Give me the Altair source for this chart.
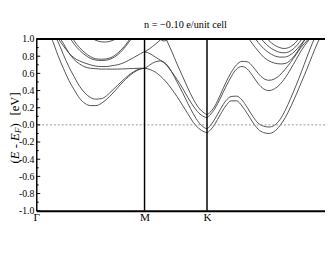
import altair as alt
import pandas as pd

# ---------------- data ----------------
title_text = "n = \u22120.10 e/unit cell"
hs_labels = ["\u0393", "M", "K"]
hs_pos = [0.0, 1.0, 1.577]
k_max = 2.667

y_major = [-1.0, -0.8, -0.6, -0.4, -0.2, 0.0, 0.2, 0.4, 0.6, 0.8, 1.0]
y_minor = [-0.9, -0.7, -0.5, -0.3, -0.1, 0.1, 0.3, 0.5, 0.7, 0.9]

# band A : deep Gamma-M valley -> lowest M-K band -> lower K-Gamma band
bandA_k = [0.13, 0.15, 0.20, 0.25, 0.30, 0.35, 0.40, 0.45, 0.50, 0.55, 0.60, 0.65, 0.70, 0.75,
           0.80, 0.85, 0.90, 0.95, 1.00, 1.05, 1.10, 1.15, 1.20, 1.25, 1.30, 1.35, 1.40, 1.45,
           1.50, 1.55, 1.577, 1.60, 1.65, 1.70, 1.75, 1.80, 1.85, 1.90, 1.95, 2.00, 2.05, 2.10,
           2.15, 2.20, 2.25, 2.30, 2.35, 2.40, 2.45, 2.50, 2.55, 2.60, 2.63]
bandA_E = [1.03, 0.98, 0.81, 0.66, 0.52, 0.41, 0.31, 0.25, 0.225, 0.225, 0.25, 0.30, 0.36, 0.43,
           0.50, 0.56, 0.61, 0.645, 0.66, 0.645, 0.615, 0.565, 0.50, 0.42, 0.33, 0.23, 0.13, 0.03,
           -0.04, -0.08, -0.09, -0.07, 0.01, 0.12, 0.22, 0.28, 0.28, 0.22, 0.13, 0.03, -0.05, -0.09,
           -0.10, -0.075, -0.01, 0.085, 0.21, 0.35, 0.50, 0.65, 0.81, 0.96, 1.04]

# band B : shallow Gamma-M valley -> M-K band with bump -> second K-Gamma band
bandB_k = [0.18, 0.20, 0.25, 0.30, 0.35, 0.40, 0.45, 0.50, 0.55, 0.60, 0.65, 0.70, 0.75, 0.80,
           0.85, 0.90, 0.95, 1.00, 1.05, 1.10, 1.15, 1.20, 1.25, 1.30, 1.35, 1.40, 1.45, 1.50,
           1.55, 1.577, 1.60, 1.65, 1.70, 1.75, 1.80, 1.85, 1.90, 1.95, 2.00, 2.05, 2.10, 2.15,
           2.20, 2.25, 2.30, 2.35, 2.40, 2.45, 2.50, 2.55, 2.58]
bandB_E = [1.02, 0.97, 0.82, 0.68, 0.56, 0.45, 0.37, 0.32, 0.30, 0.305, 0.34, 0.40, 0.46, 0.52,
           0.575, 0.62, 0.65, 0.66, 0.70, 0.735, 0.745, 0.71, 0.62, 0.50, 0.38, 0.25, 0.13, 0.03,
           -0.03, -0.045, -0.02, 0.07, 0.18, 0.28, 0.33, 0.335, 0.29, 0.20, 0.10, 0.02, -0.015, -0.025,
           -0.005, 0.06, 0.17, 0.31, 0.46, 0.62, 0.79, 0.95, 1.04]

# band C : Gamma-M flat band -> M (0.85) -> K (0.085) -> K-Gamma band
bandC_k = [0.20, 0.25, 0.30, 0.35, 0.40, 0.45, 0.50, 0.55, 0.60, 0.65, 0.70, 0.75, 0.80, 0.85,
           0.90, 0.95, 1.00, 1.05, 1.10, 1.15, 1.20, 1.25, 1.30, 1.35, 1.40, 1.45, 1.50, 1.55,
           1.577, 1.60, 1.65, 1.70, 1.75, 1.80, 1.85, 1.90, 1.95, 2.00, 2.05, 2.10, 2.15, 2.20,
           2.25, 2.30, 2.35, 2.40, 2.45, 2.50, 2.55]
bandC_E = [1.01, 0.92, 0.84, 0.78, 0.745, 0.72, 0.70, 0.685, 0.68, 0.68, 0.69, 0.70, 0.72, 0.75,
           0.785, 0.82, 0.85, 0.83, 0.79, 0.75, 0.70, 0.62, 0.53, 0.43, 0.32, 0.22, 0.14, 0.095,
           0.085, 0.11, 0.19, 0.31, 0.44, 0.56, 0.65, 0.68, 0.65, 0.57, 0.48, 0.42, 0.40, 0.42,
           0.47, 0.55, 0.65, 0.76, 0.87, 0.96, 1.04]

# band D : second flat Gamma-M band ending at M (0.66)
bandD_k = [0.22, 0.25, 0.30, 0.35, 0.40, 0.45, 0.50, 0.55, 0.60, 0.65, 0.70, 0.75, 0.80, 0.85,
           0.90, 0.95, 1.00]
bandD_E = [1.01, 0.95, 0.84, 0.76, 0.71, 0.675, 0.66, 0.655, 0.65, 0.65, 0.65, 0.65, 0.652,
           0.655, 0.657, 0.66, 0.66]

# band E : from M (0.85) up through the top frame
bandE_k = [1.00, 1.05, 1.10, 1.15, 1.17]
bandE_E = [0.85, 0.89, 0.94, 0.995, 1.02]

# band F : enters from the top in M-K -> K (0.12) -> upper K-Gamma band
bandF_k = [1.19, 1.20, 1.25, 1.30, 1.35, 1.40, 1.45, 1.50, 1.55, 1.577, 1.60, 1.65, 1.70, 1.75,
           1.80, 1.85, 1.90, 1.95, 2.00, 2.05, 2.10, 2.15, 2.20, 2.25, 2.30, 2.35, 2.40, 2.45,
           2.50, 2.53]
bandF_E = [1.03, 1.00, 0.86, 0.71, 0.57, 0.43, 0.30, 0.20, 0.14, 0.12, 0.14, 0.22, 0.35, 0.49,
           0.61, 0.70, 0.74, 0.735, 0.68, 0.60, 0.54, 0.52, 0.535, 0.58, 0.65, 0.73, 0.82, 0.91,
           0.98, 1.03]

# bands near the top of Gamma-M
bandG_k = [0.30, 0.35, 0.40, 0.45, 0.50, 0.55, 0.60, 0.65, 0.70, 0.75, 0.80, 0.85, 0.90]
bandG_E = [1.035, 0.94, 0.87, 0.815, 0.775, 0.755, 0.75, 0.755, 0.775, 0.815, 0.875, 0.955, 1.04]
bandH_k = [0.33, 0.35, 0.40, 0.45, 0.50, 0.55, 0.60, 0.65, 0.70, 0.75, 0.80, 0.85, 0.87]
bandH_E = [1.02, 0.98, 0.90, 0.84, 0.795, 0.77, 0.765, 0.77, 0.79, 0.835, 0.895, 0.975, 1.01]
bandI_k = [0.51, 0.55, 0.60, 0.63, 0.66, 0.70, 0.75]
bandI_E = [1.01, 0.985, 0.968, 0.965, 0.968, 0.982, 1.01]

# small arc at the top of M-K
bandJ_k = [1.14, 1.16, 1.18, 1.20, 1.22]
bandJ_E = [1.01, 0.985, 0.978, 0.985, 1.01]

# nested arcs near the top of K-Gamma
arc1_k = [2.12, 2.15, 2.20, 2.25, 2.29, 2.33, 2.37, 2.41, 2.44]
arc1_E = [1.02, 0.98, 0.93, 0.90, 0.89, 0.90, 0.93, 0.98, 1.03]
arc2_k = [2.06, 2.10, 2.15, 2.20, 2.25, 2.29, 2.33, 2.38, 2.43, 2.47]
arc2_E = [1.03, 0.97, 0.91, 0.87, 0.845, 0.84, 0.85, 0.89, 0.96, 1.03]
arc3_k = [2.01, 2.05, 2.10, 2.15, 2.20, 2.25, 2.29, 2.34, 2.39, 2.44, 2.50]
arc3_E = [1.03, 0.96, 0.89, 0.84, 0.805, 0.79, 0.79, 0.81, 0.86, 0.93, 1.03]
arc4_k = [1.95, 2.00, 2.05, 2.10, 2.15, 2.20, 2.26, 2.31, 2.36, 2.41, 2.45, 2.49]
arc4_E = [1.03, 0.94, 0.86, 0.79, 0.745, 0.72, 0.71, 0.72, 0.77, 0.85, 0.93, 1.01]

series = {
    "A": (bandA_k, bandA_E), "B": (bandB_k, bandB_E), "C": (bandC_k, bandC_E),
    "D": (bandD_k, bandD_E), "E": (bandE_k, bandE_E), "F": (bandF_k, bandF_E),
    "G": (bandG_k, bandG_E), "H": (bandH_k, bandH_E), "I": (bandI_k, bandI_E),
    "J": (bandJ_k, bandJ_E), "a1": (arc1_k, arc1_E), "a2": (arc2_k, arc2_E),
    "a3": (arc3_k, arc3_E), "a4": (arc4_k, arc4_E),
}
rows = []
for name, (ks, es) in series.items():
    for kv, ev in zip(ks, es):
        rows.append({"band": name, "k": kv, "E": ev})
bands_df = pd.DataFrame(rows)

SERIF = "Liberation Serif"

label_expr = " : ".join(
    f"abs(datum.value - {p}) < 0.01 ? '{l}'" for p, l in zip(hs_pos, hs_labels)
) + " : ''"

xscale = alt.Scale(domain=[0, k_max], nice=False, zero=False)
yscale = alt.Scale(domain=[-1, 1], nice=False, zero=False)

xaxis = alt.Axis(
    values=hs_pos, labelExpr=label_expr, title=None, ticks=False, tickSize=0,
    grid=False, domainColor="black", domainWidth=2, labelFont=SERIF,
    labelFontSize=11.5, labelColor="black", labelPadding=1,
    labelOverlap=False, labelFlush=False, labelBound=False)
yaxis = alt.Axis(
    values=y_major, labelExpr="replace(format(datum.value, '.1f'), '\u2212', '-')",
    title=None, ticks=False, tickSize=0, grid=False, domainColor="black",
    domainWidth=1.5, labelFont=SERIF, labelFontSize=10, labelColor="black",
    labelPadding=2.5, labelOverlap=False, labelFlush=False, labelBound=False)

X = lambda: alt.X("k:Q", scale=xscale, axis=xaxis)
Y = lambda: alt.Y("E:Q", scale=yscale, axis=yaxis)

lines = alt.Chart(bands_df).mark_line(
    interpolate="monotone", clip=True, color="#333333", strokeWidth=0.85
).encode(x=X(), y=Y(), detail="band:N")

zero_line = alt.Chart(pd.DataFrame({"E": [0.0]})).mark_rule(
    color="#8a8a8a", strokeDash=[2, 2], strokeWidth=0.9
).encode(y=Y())

top_frame = alt.Chart(pd.DataFrame({"E": [1.0]})).mark_rule(
    color="black", strokeWidth=2
).encode(y=Y())

vlines = alt.Chart(pd.DataFrame({"k": hs_pos[1:]})).mark_rule(
    color="black", strokeWidth=1.5
).encode(x=X())

major_ticks = alt.Chart(pd.DataFrame({"E": y_major})).mark_rule(
    color="black", strokeWidth=1
).encode(y=Y(), x=alt.value(0), x2=alt.value(4))

minor_ticks = alt.Chart(pd.DataFrame({"E": y_minor})).mark_rule(
    color="black", strokeWidth=1
).encode(y=Y(), x=alt.value(0), x2=alt.value(2.5))

# y-axis title "(E - E_F)  [eV]" composed of pieces (rotated)
one = pd.DataFrame({"v": [0]})
TX = -22
def piece(txt, y, italic=False, size=13, dx=0):
    return alt.Chart(one).mark_text(
        text=txt, angle=270, align="left", baseline="middle", font=SERIF,
        fontSize=size, fontStyle="italic" if italic else "normal", color="black"
    ).encode(x=alt.value(TX + dx), y=alt.value(y))

ytitle = [
    piece("(", 127.5),
    piece("E", 123.2, italic=True),
    piece("-", 112.0),
    piece("E", 104.4, italic=True),
    piece("F", 96.5, italic=True, size=9.5, dx=3.7),
    piece(")", 90.7),
    piece("[eV]", 78.4),
]

chart = alt.layer(
    lines, zero_line, vlines, top_frame, major_ticks, minor_ticks, *ytitle
).properties(
    width=296, height=176,
    title=alt.TitleParams(title_text, font=SERIF, fontSize=10.5, fontWeight="normal",
                          color="black", anchor="middle", offset=4, dx=5),
    padding={"left": 29, "top": 29, "right": 0, "bottom": 20},
    autosize=alt.AutoSizeParams(type="none"),
).configure(background="white", font=SERIF).configure_view(stroke=None)

chart.save("out.html", embed_options={"renderer": "svg", "actions": False})
